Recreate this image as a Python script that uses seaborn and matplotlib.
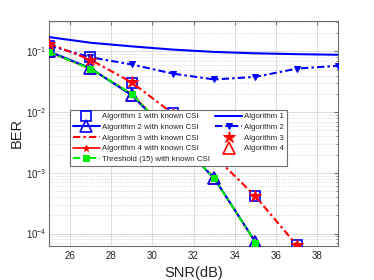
import matplotlib
matplotlib.use("Agg")
import matplotlib.pyplot as plt
import seaborn as sns
import pandas as pd
import numpy as np

# values
snr = [25, 27, 29, 31, 33, 35, 37, 39]
alg1 = [0.172, 0.139, 0.121, 0.107, 0.098, 0.093, 0.090, 0.088]
alg2 = [0.125, 0.080, 0.061, 0.043, 0.0345, 0.038, 0.052, 0.058]

snr_a = [25, 27, 29, 31, 33, 35, 37]
alg1_csi = [0.125, 0.081, 0.030, 0.0095, 0.0019, 4.2e-4, 6.4e-5]
alg3 = [0.134, 0.073, 0.031, 0.0094, 0.0019, 4.1e-4, 6.4e-5]
alg3_csi = [0.134, 0.073, 0.031, 0.0094, 0.0019, 4.1e-4, 6.4e-5]

snr_b = [25, 27, 29, 31, 33, 35]
alg2_csi = [0.100, 0.053, 0.019, 0.0040, 8.2e-4, 7.2e-5]
alg4 = [0.100, 0.053, 0.019, 0.0040, 8.2e-4, 7.2e-5]
alg4_csi = [0.097, 0.052, 0.020, 0.0040, 8.1e-4, 7.1e-5]
thr_csi = [0.097, 0.052, 0.020, 0.0040, 8.1e-4, 7.1e-5]

xticks = [26, 28, 30, 32, 34, 36, 38]
yticks = [1e-4, 1e-3, 1e-2, 1e-1]
ytick_labels = ["$10^{-4}$", "$10^{-3}$", "$10^{-2}$", "$10^{-1}$"]

sns.set_style("whitegrid")
plt.rcParams["font.family"] = ["Liberation Sans", "DejaVu Sans"]
plt.rcParams["mathtext.fontset"] = "custom"
plt.rcParams["mathtext.rm"] = "Liberation Sans"

fig = plt.figure(figsize=(3.74, 2.80), dpi=100)
ax = fig.add_axes([0.131, 0.1225, 0.773, 0.8035])
ax.set_yscale("log")

blue = "#0000ff"
red = "#ff0000"
green = "#00ee00"
edge = "#6e6e6e"
dashdot = (0, (3.5, 1.5, 1.2, 1.5))


def draw(x, y, label, **kw):
    df = pd.DataFrame({"snr": x, "ber": y})
    sns.lineplot(data=df, x="snr", y="ber", ax=ax, label=label, sort=False,
                 estimator=None, **kw)
    return ax.lines[-1]


h = {}
h["a4c"] = draw(snr_b, alg4_csi, "Algorithm 4 with known CSI", color=red,
                linestyle="-", linewidth=1.2, marker="*", markersize=5,
                markerfacecolor=red, markeredgecolor=red, zorder=2)
h["a4"] = draw(snr_b, alg4, "Algorithm 4", color=red, linestyle="none",
               marker="^", markersize=8, markerfacecolor="none",
               markeredgecolor=red, markeredgewidth=1.2, zorder=2)
h["a2c"] = draw(snr_b, alg2_csi, "Algorithm 2 with known CSI", color=blue,
                linestyle="-", linewidth=1.5, marker="^", markersize=8.5,
                markerfacecolor="none", markeredgecolor=blue,
                markeredgewidth=1.2, zorder=3)
h["thr"] = draw(snr_b, thr_csi, "Threshold (15) with known CSI", color=green,
                linestyle=dashdot, linewidth=1.5, marker="s", markersize=4,
                markerfacecolor=green, markeredgecolor=green, zorder=4)
h["a1c"] = draw(snr_a, alg1_csi, "Algorithm 1 with known CSI", color=blue,
                linestyle="none", marker="s", markersize=7.5,
                markerfacecolor="none", markeredgecolor=blue,
                markeredgewidth=1.2, zorder=3)
h["a3c"] = draw(snr_a, alg3_csi, "Algorithm 3 with known CSI", color=red,
                linestyle=dashdot, linewidth=1.5, zorder=4)
h["a3"] = draw(snr_a, alg3, "Algorithm 3", color=red, linestyle="none",
               marker="*", markersize=9, markerfacecolor=red,
               markeredgecolor=red, zorder=5)
h["a1"] = draw(snr, alg1, "Algorithm 1", color=blue, linestyle="-",
               linewidth=1.5, zorder=3)
h["a2"] = draw(snr, alg2, "Algorithm 2", color=blue, linestyle=dashdot,
               linewidth=1.5, marker="v", markersize=5,
               markerfacecolor=blue, markeredgecolor=blue, zorder=3)

ax.set_xlim(25, 39)
ax.set_ylim(6.3e-5, 0.32)
ax.set_xticks(xticks)
ax.set_xticklabels([str(t) for t in xticks])
ax.set_yticks(yticks)
ax.set_yticklabels(ytick_labels)
ax.minorticks_on()
ax.xaxis.set_minor_locator(matplotlib.ticker.NullLocator())
ax.grid(True, which="major", color="#dcdcdc", linewidth=0.7, linestyle="-")
ax.grid(True, which="minor", axis="y", color="#d0d0d0", linewidth=0.6,
        linestyle=":")
ax.tick_params(axis="both", which="both", direction="in", labelsize=7,
               colors=edge, labelcolor="#262626", top=True, right=True,
               length=3)
ax.tick_params(axis="y", which="both", pad=2)
ax.tick_params(axis="y", which="minor", length=1.5)
for s in ax.spines.values():
    s.set_color(edge)
    s.set_linewidth(0.8)

ax.set_xlabel("SNR(dB)", fontsize=10.5, labelpad=4)
ax.set_ylabel("BER", fontsize=10.5)
ax.yaxis.set_label_coords(-0.088, 0.5)

order = ["a1c", "a2c", "a3c", "a4c", "thr", "a1", "a2", "a3", "a4"]
leg = ax.legend([h[k] for k in order], [h[k].get_label() for k in order],
                ncol=2, fontsize=5.7, loc="upper left",
                bbox_to_anchor=(0.0727, 0.603), borderaxespad=0,
                fancybox=False, framealpha=1, edgecolor=edge,
                labelspacing=0.4, handlelength=3.4, handletextpad=0.25,
                columnspacing=0.7, borderpad=0.35)
leg.get_frame().set_linewidth(0.8)
leg.set_zorder(10)

fig.savefig("out.png", dpi=100)
